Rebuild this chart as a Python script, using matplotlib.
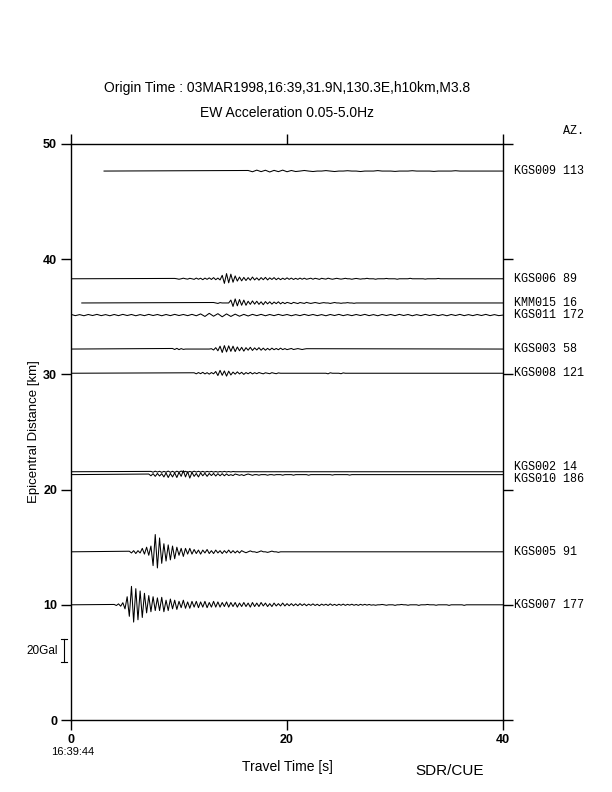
import numpy as np
import matplotlib
matplotlib.use("Agg")
import matplotlib.pyplot as plt

# station data: name, azimuth, epicentral distance [km]
stations = ["KGS009", "KGS006", "KMM015", "KGS011", "KGS003",
            "KGS008", "KGS002", "KGS010", "KGS005", "KGS007"]
azimuths = [113, 89, 16, 172, 58, 121, 14, 186, 91, 177]
distances = [47.65, 38.3, 36.2, 35.15, 32.2, 30.1, 21.55, 21.3, 14.6, 10.0]
label_y = [47.65, 38.3, 36.2, 35.15, 32.2, 30.1, 21.95, 20.9, 14.6, 10.0]
line_start = [3.06, 0, 1.0, 0, 0, 0, 0, 0, 0, 0]   # [s]
sig_start = [16.4, 9.6, 13.2, 0.0, 9.4, 11.4, 7.4, 7.2, 5.4, 4.0]  # [s]
sig_dt = [0.4, 0.2, 0.2, 0.4, 0.2, 0.2, 0.2, 0.2, 0.2, 0.2]  # [s]

# EW acceleration [Gal]
acc_kgs009 = [0.5, -0.6, 0.8, -0.5, 0.7, -0.8, 0.6, -0.5, 0.8, -0.6, 0.5, -0.4,
              0, 0.5, 0, -0.4, 0, 0, 0.4, 0, -0.4, 0, 0, 0.3, 0, 0, -0.4, 0,
              0, 0, 0.4, 0, 0, 0, -0.3, 0, 0, 0, 0.3, 0, 0, 0, 0, -0.3, 0,
              0, 0, 0, 0.3, 0, 0, 0, 0]
acc_kgs006 = [0.3, 0, -0.4, 0, 0.5, 0, -0.3, 0.4, 0, -0.5, 0.6, -0.4, 0.5,
              -0.8, 0.6, -0.5, 0.8, -0.6, 1.0, -0.8, 0.6, -1.0,
              3.0, -4.0, 4.5, -3.5, 4.0, -3.0, 2.5,
              -2.0, 1.5, -1.8, 1.2, -1.5, 1.0, -1.2, 1.5, -1.0, 0.8, -1.2,
              1.0, -0.8, 1.2, -1.0, 0.8, -0.6, 1.0, -0.8, 0.6, -0.8, 0.5, -0.6,
              0.8, -0.5, 0.6, -0.6, 0.4, -0.5, 0.6, -0.4, 0.5, -0.4, 0, 0.5,
              -0.4, 0.4, 0, -0.5, 0.4, 0, -0.3, 0.5, 0, -0.4, 0, 0.4, 0, -0.3,
              0, 0.4, 0, 0, -0.4, 0, 0.3, 0, -0.3,
              0, 0, 0.4, 0, 0, 0, -0.4, 0, 0, 0, 0, 0.3, 0, 0, 0, 0, -0.4, 0,
              0, 0, 0, 0, 0.4, 0, 0, 0, 0, 0, 0, -0.3, 0, 0, 0, 0, 0, 0.3, 0]
acc_kmm015 = [0.4, 0, -0.4, 0.3, 0, 0, 0, 0,
              2.5, -3.0, 3.5, -2.5, 3.0, -2.0, 2.5, -2.0,
              1.5, -1.2, 1.8, -1.0, 1.5, -1.2, 1.0, -1.5, 1.2, -0.8, 1.0,
              -1.0, 0.8, -0.6, 1.0, -0.8, 0.6, -0.6,
              0.5, 0, -0.6, 0.5, 0, -0.5, 0.4, 0, -0.4, 0.5, 0, -0.4, 0, 0.4,
              0, -0.4, 0, 0.3, 0, 0, -0.4, 0, 0.4, 0, 0, -0.3, 0, 0, 0.3, 0,
              0, -0.3, 0, 0]
acc_kgs011 = [0.6, -0.5, 0.4, -0.6, 0.5, -0.4, 0.6, -0.5, 0.4, -0.6, 0.5,
              -0.5, 0.6, -0.4, 0.5, -0.6, 0.4, -0.5, 0.6, -0.4, 0.5, -0.6,
              0.5, -0.5, 0.6, -0.4, 0.5, -0.5, 0.6, -0.6, 1.0, -1.2, 1.5,
              -1.0, 1.2, -1.5, 1.0, -1.2, 0.8, -1.0, 0.6, -0.8, 0.6, -0.5,
              0.6, -0.6, 0.5, -0.5, 0.6, -0.4, 0.5, -0.6, 0.4, -0.5, 0.6,
              -0.4, 0.5, -0.5, 0.4, -0.6, 0.5, -0.4, 0.6, -0.5, 0.4, -0.5,
              0.5, -0.4, 0.6, -0.5, 0.4, -0.6, 0.5, -0.4, 0.5, -0.5, 0.6,
              -0.4, 0.5, -0.6, 0.4, -0.5, 0.6, -0.4, 0.5, -0.5, 0.4, -0.6,
              0.5, -0.4, 0.6, -0.5, 0.4, -0.5, 0.5, -0.4, 0.6, -0.5, 0.4,
              -0.5]
acc_kgs003 = [0.5, -0.4, 0.6, -0.5, 0.4, -0.3,
              0, 0, 0, 0, 0, 0, 0, 0, 0, 0, 0, 0, 0.3,
              -0.8, 1.2, -1.5, 2.5, -3.0, 3.0, -2.5, 2.8, -2.0, 2.5, -2.2,
              1.8, -1.5, 1.5, -1.8, 1.2, -1.0, 1.5, -1.2, 1.0, -0.8, 1.2,
              -1.0, 0.8, -1.0, 0.6, -0.8, 0.8, -0.6, 0.5, -0.6, 0.8, -0.5,
              0.4, -0.5, 0, 0.5, -0.4, 0, 0.4, 0, -0.4, 0, 0.3]
acc_kgs008 = [0.4, -0.5, 0.6, -0.4, 0.8, -0.6, 0.5, -0.8, 0.6, -0.5,
              1.5, -2.0, 2.5, -1.8, 2.0, -2.5, 1.8, -1.5,
              1.0, -0.8, 1.2, -0.6, 0.8, -1.0, 0.6, -0.5, 0.8, -0.6, 0.5,
              -0.4, 0.6, 0, -0.5, 0.4, 0, -0.4, 0.5, 0, -0.4, 0.3, 0,
              0, 0, 0, 0, 0, 0, 0, 0, 0, 0, 0, 0, 0, 0, 0, 0, 0, 0, 0, 0,
              0, -0.5, 0.4, 0, 0, 0, 0, -0.4, 0.3, 0]
acc_kgs002 = [0.3, -0.4, 0.5, -0.3, 0.4, -0.5, 0.3, -0.4, 0.6, -0.5, 0.4,
              -0.6, 0.5, -0.4, 0.6, -0.3, 0.4, -0.5, 0.3, -0.4, 0.5, -0.3,
              0.4, -0.3, 0.3, -0.4, 0.3, -0.2, 0.3, -0.3, 0.2, -0.3, 0.2,
              -0.2, 0.3, -0.2, 0.2, -0.2, 0.2, 0]
acc_kgs010 = [0.5, -1.0, 0.8, -1.5, 1.0, -1.2, 0.8,
              -2.0, 1.5, -2.5, 1.0, -2.0, 1.5, -2.5, 2.0, -1.5,
              3.5, -2.0, 2.5, -3.0, 2.0,
              -1.5, 1.0, -2.0, 1.5, -1.0, 1.2, -1.5, 1.0, -0.8, 1.0, -1.2,
              0.8, -1.0,
              0.8, -1.0, 0.6, -0.8, 0, -0.8, 0.5, 0, -0.6, 0, -0.8, 0, 0.5,
              0, -0.6,
              0, 0, -0.5, 0, 0, 0, -0.5, 0, 0, -0.4, 0, 0, 0, -0.5, 0, 0, 0,
              0, -0.5, 0, 0, 0, 0, 0, 0, -0.5, 0, 0, 0, 0, 0, 0, 0, 0, 0,
              0, -0.4, 0, 0, 0, 0, 0, 0, 0, -0.4, 0]
acc_kgs005 = [0.5, -1.0, 1.0, -1.5, 1.0, -1.0,
              3.0, -2.0, 4.0, -3.0, 5.0,
              -12.0, 15.0, -14.0, 12.0, -10.0,
              7.0, -8.0, 6.0, -7.0, 5.0, -6.0,
              4.0, -3.0, 3.0, -4.0, 3.0, -2.0, 3.0, -2.0,
              2.0, -1.5, 1.5, -2.0, 1.5, -1.0, 2.0, -1.5, 1.0, -1.5, 1.5,
              -1.0, 1.0, -1.5, 1.0, -1.0, 1.5, -1.0, 1.0, -1.0, 0.8, -1.0, 1.0,
              0, -0.8, 0, 0.8, 0, 0, -0.6, 0, 0.8, 0, 0, -0.5, 0, 0.6, 0, 0,
              -0.5, 0]
acc_kgs007 = [0.3, -0.6, 0.8, -1.2, 1.8,
              -3.5, 7.0, -10.0,
              16.0, -15.0, 14.0,
              -13.0, 12.0, -11.0, 10.0,
              -7.0, 8.0, -6.0, 7.0, -5.0,
              6.0, -5.0, 6.5, -6.0, 4.0, -5.0, 5.0, -3.5, 4.0, -4.0,
              3.0, -2.5, 4.0, -3.0, 2.5, -3.0, 3.0, -2.0, 3.0, -2.5,
              2.5, -2.0, 3.0, -2.5, 2.0, -2.0, 3.0, -2.0, 2.5, -2.0,
              2.0, -1.5, 2.5, -2.0, 2.0, -1.5, 2.0, -2.0, 1.5, -1.5,
              2.0, -1.5, 1.5, -2.0, 2.0, -1.5, 1.5, -1.5, 2.0, -1.0,
              1.5, -1.5, 1.0, -1.5, 1.5, -1.0, 1.0, -1.0, 1.5, -1.0,
              1.0, -0.8, 1.0, -0.8, 0.8,
              -0.8, 1.0, -0.6, 0.8, -0.8, 0.6, -0.5, 0.8, -0.6, 0.5, -0.8,
              0.6, -0.4, 0.5, -0.6, 0.8, -0.5, 0.4, -0.6, 0.5, -0.4, 0.6,
              -0.5, 0.4, -0.3, 0.5, -0.4, 0.3, -0.5, 0.4, -0.3, 0.4, -0.3,
              0.3, -0.3,
              0, -0.4, 0, 0, 0.3, 0, -0.4, 0, 0, 0, -0.5, 0, 0, 0.3, 0, 0,
              -0.4, 0, 0, 0, 0, -0.5, 0, 0, 0, 0.3, 0, 0, 0, -0.4, 0, 0, 0,
              0, 0, -0.5, 0, 0, 0, 0, 0, 0, -0.5, 0]

traces = [acc_kgs009, acc_kgs006, acc_kmm015, acc_kgs011, acc_kgs003,
          acc_kgs008, acc_kgs002, acc_kgs010, acc_kgs005, acc_kgs007]

gal_to_km = 2.0 / 20.0   # 20 Gal scale bar = 2 km on the distance axis
t_end = 40

fig = plt.figure(figsize=(6.12, 7.92), dpi=100)
ax = fig.add_axes([0.116, 0.0909, 0.706, 0.7273])

for i, acc in enumerate(traces):
    acc = np.asarray(acc, dtype=float)
    t = sig_start[i] + sig_dt[i] * np.arange(len(acc))
    x = np.concatenate([[line_start[i]], t, [t_end]])
    y = distances[i] + gal_to_km * np.concatenate([[0], acc, [0]])
    ax.plot(x, y, color="black", lw=0.75)
    ax.text(41.0, label_y[i], f"{stations[i]} {azimuths[i]}",
            family="Liberation Mono", fontsize=8.5, va="center", ha="left",
            clip_on=False)

ax.text(41.0, 51.1, f"{'':7s}AZ.", family="Liberation Mono", fontsize=8.5,
        va="center", ha="left", clip_on=False)

# 20 Gal scale bar
ax.plot([-0.65, -0.65], [5.0, 7.0], color="black", lw=0.8, clip_on=False)
ax.plot([-0.9, -0.4], [5.0, 5.0], color="black", lw=0.8, clip_on=False)
ax.plot([-0.9, -0.4], [7.0, 7.0], color="black", lw=0.8, clip_on=False)
ax.text(-1.2, 6.0, "20Gal", fontsize=8.5, ha="right", va="center",
        family="Liberation Sans", clip_on=False)

ax.set_xlim(0, 40)
ax.set_ylim(0, 50)
ax.set_xticks([0, 20, 40])
ax.set_yticks([0, 10, 20, 30, 40, 50])
ax.tick_params(direction="out", length=7, width=1, top=True, right=True,
               labelsize=9, pad=3)
for lbl in ax.get_xticklabels() + ax.get_yticklabels():
    lbl.set_fontweight("bold")
    lbl.set_family("Liberation Sans")
for s in ax.spines.values():
    s.set_linewidth(1)

ax.set_ylabel("Epicentral Distance [km]", fontsize=9.5, family="Liberation Sans",
              labelpad=2)

fig.text(0.469, 0.889, "Origin Time : 03MAR1998,16:39,31.9N,130.3E,h10km,M3.8",
         ha="center", va="center", fontsize=10, family="Liberation Sans")
fig.text(0.469, 0.857, "EW Acceleration 0.05-5.0Hz", ha="center", va="center",
         fontsize=10, family="Liberation Sans")
fig.text(0.469, 0.0316, "Travel Time [s]", ha="center", va="center",
         fontsize=10, family="Liberation Sans")
fig.text(0.735, 0.0265, "SDR/CUE", ha="center", va="center", fontsize=11,
         family="Liberation Sans")
fig.text(0.118, 0.0505, "16:39:44", ha="center", va="center", fontsize=8,
         family="Liberation Sans")

fig.savefig("out.png", dpi=100)
